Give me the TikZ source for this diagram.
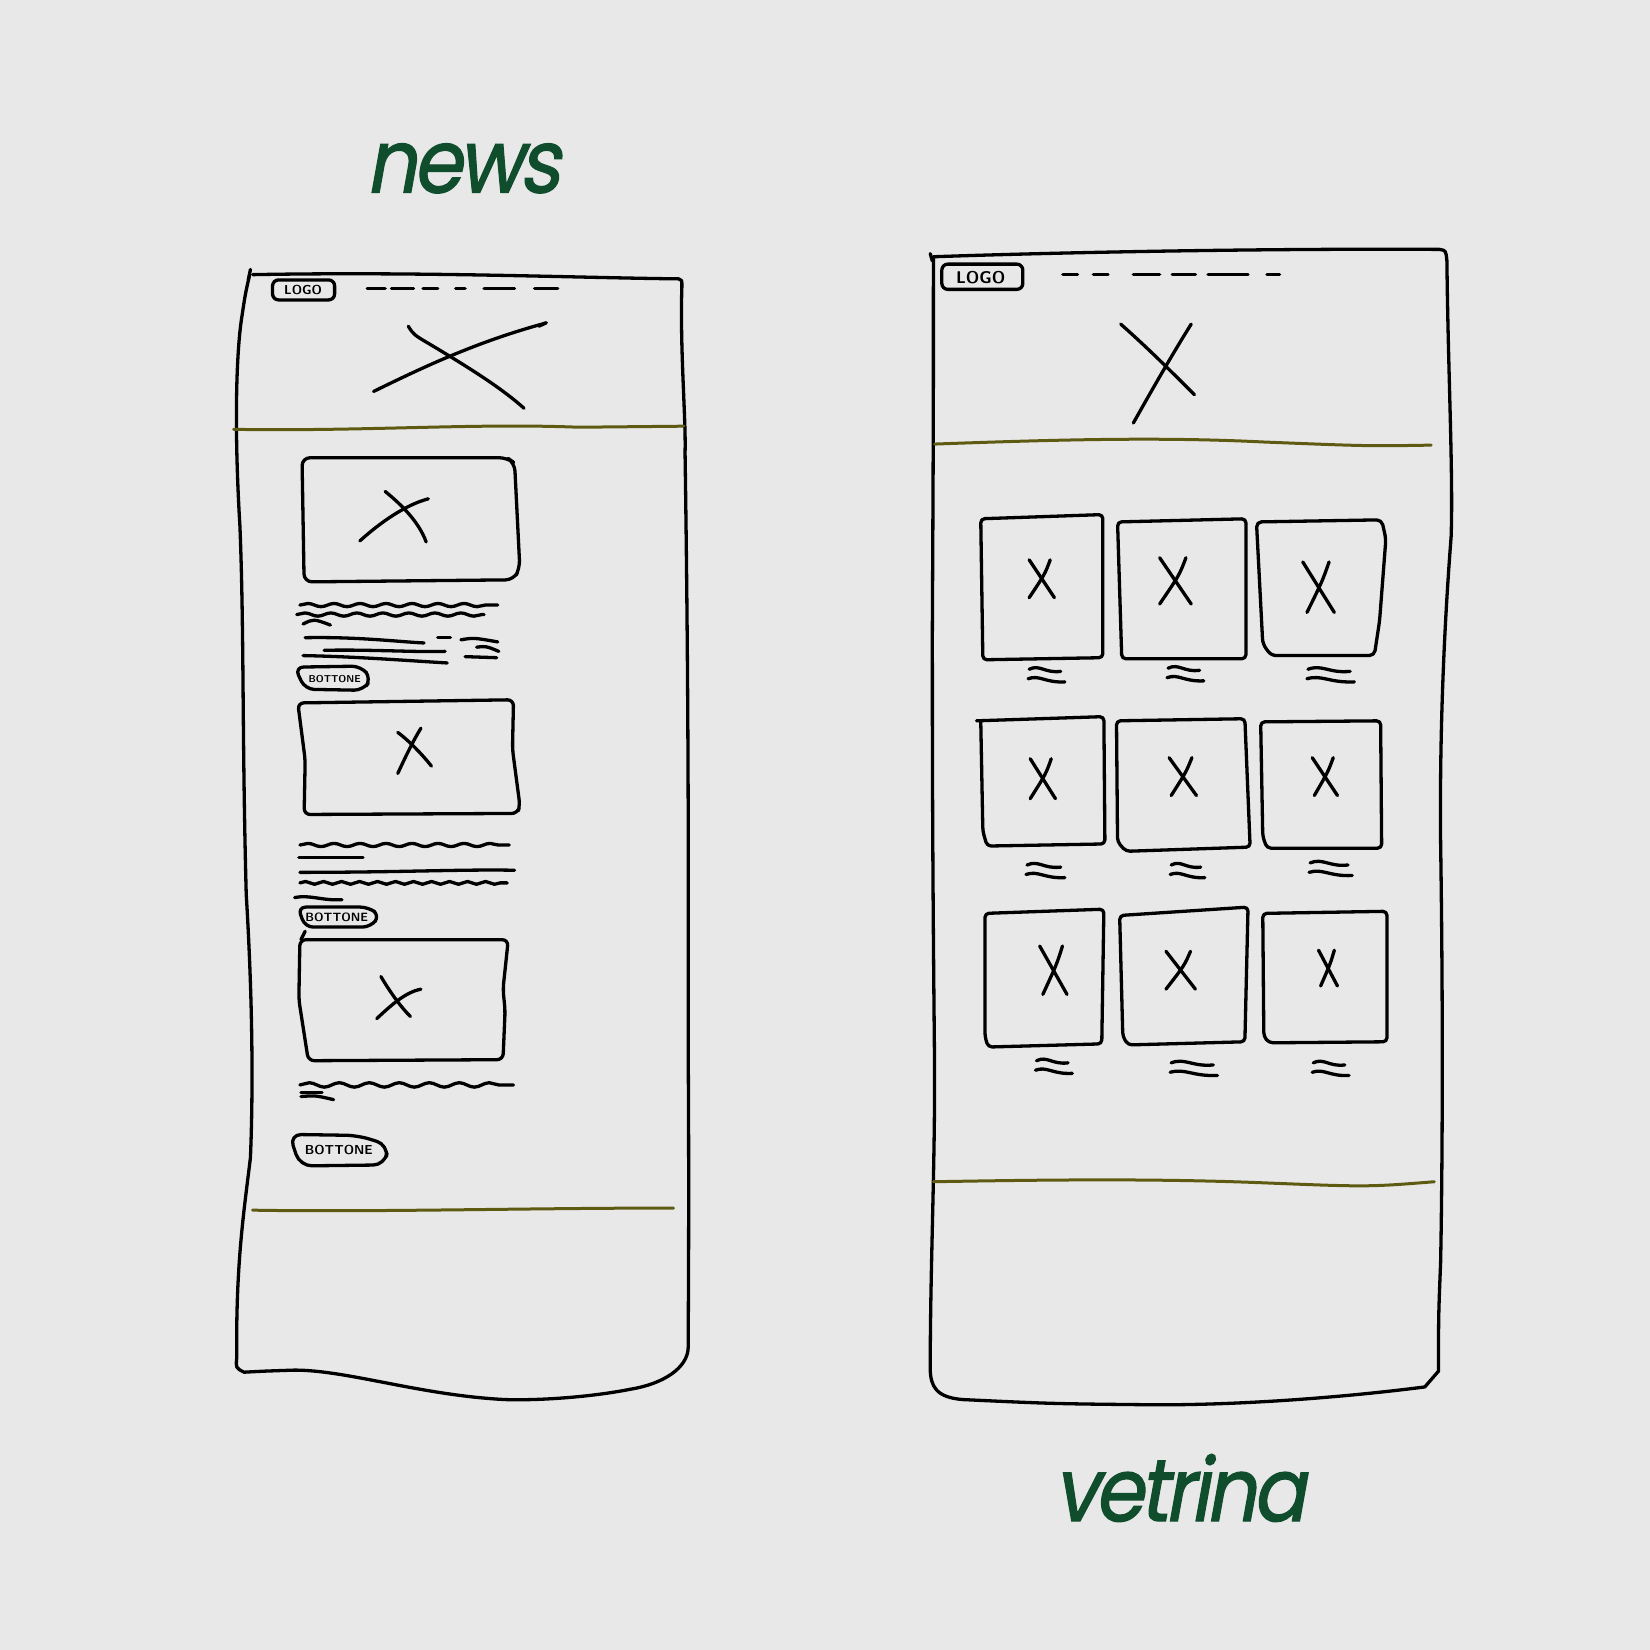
\documentclass[tikz,border=0pt]{standalone}
\usepackage{fontspec}
\newfontfamily\titlefont[FakeSlant=0.2,FakeBold=1.4,LetterSpace=-5]{Poppins}
\usetikzlibrary{decorations.pathmorphing}
\definecolor{bg}{HTML}{E8E8E8}
\definecolor{olive}{HTML}{5E5A12}
\definecolor{titlegreen}{HTML}{0F4D2D}
\newcommand{\gx}[5]{%
  \draw[pen] ({#1-#3/2},{#2-#4/2}) .. controls ({#1-#3/6},{#2-#4/6}) and ({#1+#3/6},{#2+#4/6}) .. ({#1+#3/2},{#2+#4/2});
  \draw[pen] ({#1+#3/3},{#2-#4/2}) .. controls ({#1+#3/8},{#2-#4/8}) .. ({#1-#3/2+#5},{#2+#4/2});}
\newcommand{\capt}[3]{%
  \draw[pen] (#1,#2) .. controls ({#1+#3/3},{#2-5}) and ({#1+#3/2},{#2+4}) .. ({#1+#3},{#2+2});
  \draw[pen] ({#1-1},{#2+9}) .. controls ({#1+#3/3},{#2+5}) and ({#1+#3/2},{#2+13}) .. ({#1+#3+4},{#2+12});}
\begin{document}
\begin{tikzpicture}[x=1.0523pt,y=-1.0523pt,
  pen/.style={draw=black,line width=3.3pt,line cap=round,line join=round},
  olivepen/.style={draw=olive,line width=3pt,line cap=round},
  wave/.style={pen,decorate,decoration={snake,amplitude=1.6pt,segment length=26pt}},
  handtext/.style={font=\sffamily\bfseries,inner sep=0pt},
  title/.style={text=titlegreen,inner sep=0pt}]
\fill[bg] (0,0) rectangle (1568,1568);
\useasboundingbox (0,0) rectangle (1568,1568);

% titles
\node[title] (tnews) at (440,160) {\scalebox{0.9}[1]{\titlefont\fontsize{88}{88}\selectfont news}};
\node[title] (tvetrina) at (1121,1414) {\scalebox{0.9}[1]{\titlefont\fontsize{88}{88}\selectfont vetrina}};

% ---------- left phone ----------
\draw[pen] (238,256) -- (236,266);
\draw[pen] (240,261) .. controls (400,258) and (550,264) .. (645,265) .. controls (648,266) .. (648,272)
  .. controls (646,330) and (652,400) .. (651,430) .. controls (655,700) and (654,900) .. (654,1000)
  .. controls (655,1150) and (654,1250) .. (654,1280) .. controls (654,1300) and (630,1315) .. (600,1320)
  .. controls (560,1328) and (510,1331) .. (480,1330) .. controls (400,1326) and (330,1302) .. (280,1302)
  .. controls (250,1303) .. (232,1304) .. controls (224,1300) .. (225,1290)
  .. controls (224,1200) and (232,1150) .. (238,1100) .. controls (242,1000) and (237,900) .. (234,850)
  .. controls (230,700) and (232,600) .. (228,500) .. controls (222,400) and (225,330) .. (230,300)
  .. controls (233,280) .. (237,262);
\draw[olivepen] (222,408) .. controls (350,410) and (450,402) .. (550,406) .. controls (600,406) .. (650,405);
\draw[olivepen] (240,1150) .. controls (350,1152) and (500,1148) .. (640,1148);

% logo + menu
\draw[pen,rounded corners=6] (259,266) rectangle (318,285);
\node[handtext,font=\sffamily\bfseries\fontsize{13}{13}\selectfont] (logoL) at (288,276) {LOGO};
\foreach \a/\b in {349/366,372/393,402/416,433/442,460/489,508/530}
  \draw[pen] (\a,274) -- (\b,274);

% header X
\draw[pen] (388,310) .. controls (393,318) .. (410,328) .. controls (450,352) and (478,370) .. (498,388);
\draw[pen] (355,372) .. controls (400,350) and (450,326) .. (515,308) .. controls (521,306) .. (512,310);

% card 1
\draw[pen,rounded corners=8] (287,435) -- (289,553) -- (488,551) -- (494,540) -- (489,440) -- (482,435) -- cycle;
\draw[pen] (366,467) .. controls (382,480) and (398,496) .. (405,515);
\draw[pen] (342,514) .. controls (362,496) and (385,480) .. (407,474);
\draw[wave] (285,575) -- (473,575);
\draw[wave] (282,584) -- (460,584);
\draw[pen] (288,593) .. controls (298,588) .. (314,594);
\draw[pen] (290,606) .. controls (340,605) and (380,610) .. (403,611);
\draw[pen] (416,606) -- (428,606);
\draw[pen] (438,608) .. controls (450,606) .. (473,610);
\draw[pen] (308,618) .. controls (350,617) and (400,620) .. (423,619);
\draw[pen] (453,615) .. controls (462,614) .. (474,619);
\draw[pen] (288,623) .. controls (340,624) and (390,628) .. (425,630);
\draw[pen] (442,624) -- (472,625);
\draw[pen,rounded corners=9] (280,634) -- (343,633) -- (353,645) -- (345,656) -- (290,655) -- cycle;
\node[handtext,font=\sffamily\bfseries\fontsize{10}{10}\selectfont] (btn1) at (318,645) {BOTTONE};

% card 2
\draw[pen,rounded corners=6] (283,668) -- (290,722) -- (289,774) -- (492,773) -- (494,765) -- (487,712) -- (488,665) -- cycle;
\draw[pen] (378,696) .. controls (390,705) and (402,718) .. (410,728);
\draw[pen] (378,735) .. controls (385,720) and (392,705) .. (400,692);
\draw[wave] (285,803) -- (484,803);
\draw[pen] (284,815) -- (345,815);
\draw[pen] (285,829) .. controls (380,829) and (440,826) .. (489,827);
\draw[pen,decorate,decoration={snake,amplitude=1.4pt,segment length=18pt}] (285,839) -- (482,839);
\draw[pen] (280,853) .. controls (295,850) and (305,856) .. (325,855);
\draw[pen,rounded corners=8] (283,862) -- (350,862) -- (361,870) -- (352,881) -- (290,881) -- cycle;
\node[handtext,font=\sffamily\bfseries\fontsize{12}{12}\selectfont] (btn2) at (320,872) {BOTTONE};

% card 3
\draw[pen] (286,893) -- (290,885);
\draw[pen,rounded corners=6] (285,893) -- (284,950) -- (293,1008) -- (478,1007) -- (480,960) -- (478,940) -- (483,893) -- cycle;
\draw[pen] (362,928) .. controls (372,945) and (382,958) .. (390,966);
\draw[pen] (358,968) .. controls (372,955) and (385,943) .. (400,940);
\draw[pen,decorate,decoration={snake,amplitude=2.2pt,segment length=30pt}] (285,1031) -- (488,1031);
\draw[pen] (286,1038) -- (306,1038);
\draw[pen] (286,1042) .. controls (300,1041) .. (317,1045);
\draw[pen,rounded corners=12] (275,1078) -- (340,1079) -- (369,1088) -- (366,1107) -- (285,1108) -- cycle;
\node[handtext,font=\sffamily\bfseries\fontsize{13}{13}\selectfont] (btn3) at (322,1093) {BOTTONE};

% ---------- right phone ----------
\draw[pen] (884,241) -- (886,248);
\draw[pen] (887,244) .. controls (1000,240) and (1200,236) .. (1368,237) .. controls (1374,238) .. (1375,248)
  .. controls (1376,350) and (1381,450) .. (1379,510) .. controls (1372,600) and (1368,700) .. (1369,800)
  .. controls (1372,1000) and (1370,1150) .. (1369,1200) .. controls (1367,1250) .. (1367,1303)
  -- (1354,1318) .. controls (1300,1325) and (1200,1335) .. (1100,1335) .. controls (1000,1334) .. (915,1330)
  .. controls (890,1328) and (884,1318) .. (884,1300) .. controls (884,1200) and (889,1100) .. (888,1000)
  .. controls (886,800) and (886,700) .. (886,600) .. controls (887,400) .. (887,244);
\draw[olivepen] (888,422) .. controls (1000,418) and (1100,415) .. (1200,420) .. controls (1300,424) .. (1360,423);
\draw[olivepen] (887,1123) .. controls (1000,1121) and (1100,1120) .. (1200,1124) .. controls (1300,1128) .. (1363,1123);

\draw[pen,rounded corners=6] (895,251) rectangle (972,275);
\node[handtext,font=\sffamily\bfseries\fontsize{17}{17}\selectfont] (logoR) at (932,264) {LOGO};
\foreach \a/\b in {1010/1024,1039/1053,1077/1102,1114/1136,1148/1186,1204/1216}
  \draw[pen] (\a,261) -- (\b,261);

\draw[pen] (1065,308) .. controls (1090,330) and (1115,355) .. (1135,375);
\draw[pen] (1077,402) .. controls (1095,370) and (1115,335) .. (1132,308);

% grid row 1
\draw[pen,rounded corners=4] (932,493) -- (1048,489) -- (1048,625) -- (934,627) -- cycle;
\draw[pen,rounded corners=4] (1062,496) -- (1184,493) -- (1184,626) -- (1066,626) -- cycle;
\draw[pen,rounded corners=5] (1194,496) -- (1313,494) -- (1317,512) -- (1311,590) -- (1306,623) -- (1208,623) -- (1200,612) -- cycle;
\gx{990}{550}{24}{36}{0}
\gx{1117}{552}{30}{44}{0}
\gx{1253}{558}{30}{48}{4}
\capt{978}{636}{30}
\capt{1110}{635}{30}
\capt{1243}{636}{40}
% row 2
\draw[pen,rounded corners=4] (928,685) -- (1049,681) -- (1050,802) -- (938,804) -- (934,790) -- (932,685);
\draw[pen,rounded corners=4] (1061,685) -- (1183,683) -- (1188,805) -- (1070,809) -- (1062,800) -- cycle;
\draw[pen,rounded corners=4] (1198,686) -- (1312,685) -- (1313,806) -- (1204,806) -- (1200,795) -- cycle;
\gx{991}{740}{24}{38}{0}
\gx{1124}{738}{26}{36}{2}
\gx{1259}{738}{24}{36}{2}
\capt{976}{822}{32}
\capt{1113}{822}{28}
\capt{1245}{820}{36}
% row 3
\draw[pen,rounded corners=4] (936,868) -- (1049,864) -- (1047,992) -- (939,995) -- (936,985) -- cycle;
\draw[pen,rounded corners=4] (1064,870) -- (1186,862) -- (1183,990) -- (1072,993) -- (1067,985) -- cycle;
\draw[pen,rounded corners=4] (1200,868) -- (1318,866) -- (1318,990) -- (1206,991) -- (1201,985) -- cycle;
\gx{1001}{922}{26}{46}{3}
\gx{1122}{922}{28}{36}{0}
\gx{1262}{920}{18}{34}{2}
\capt{985}{1008}{30}
\capt{1113}{1010}{40}
\capt{1248}{1010}{30}
\end{tikzpicture}
\end{document}
